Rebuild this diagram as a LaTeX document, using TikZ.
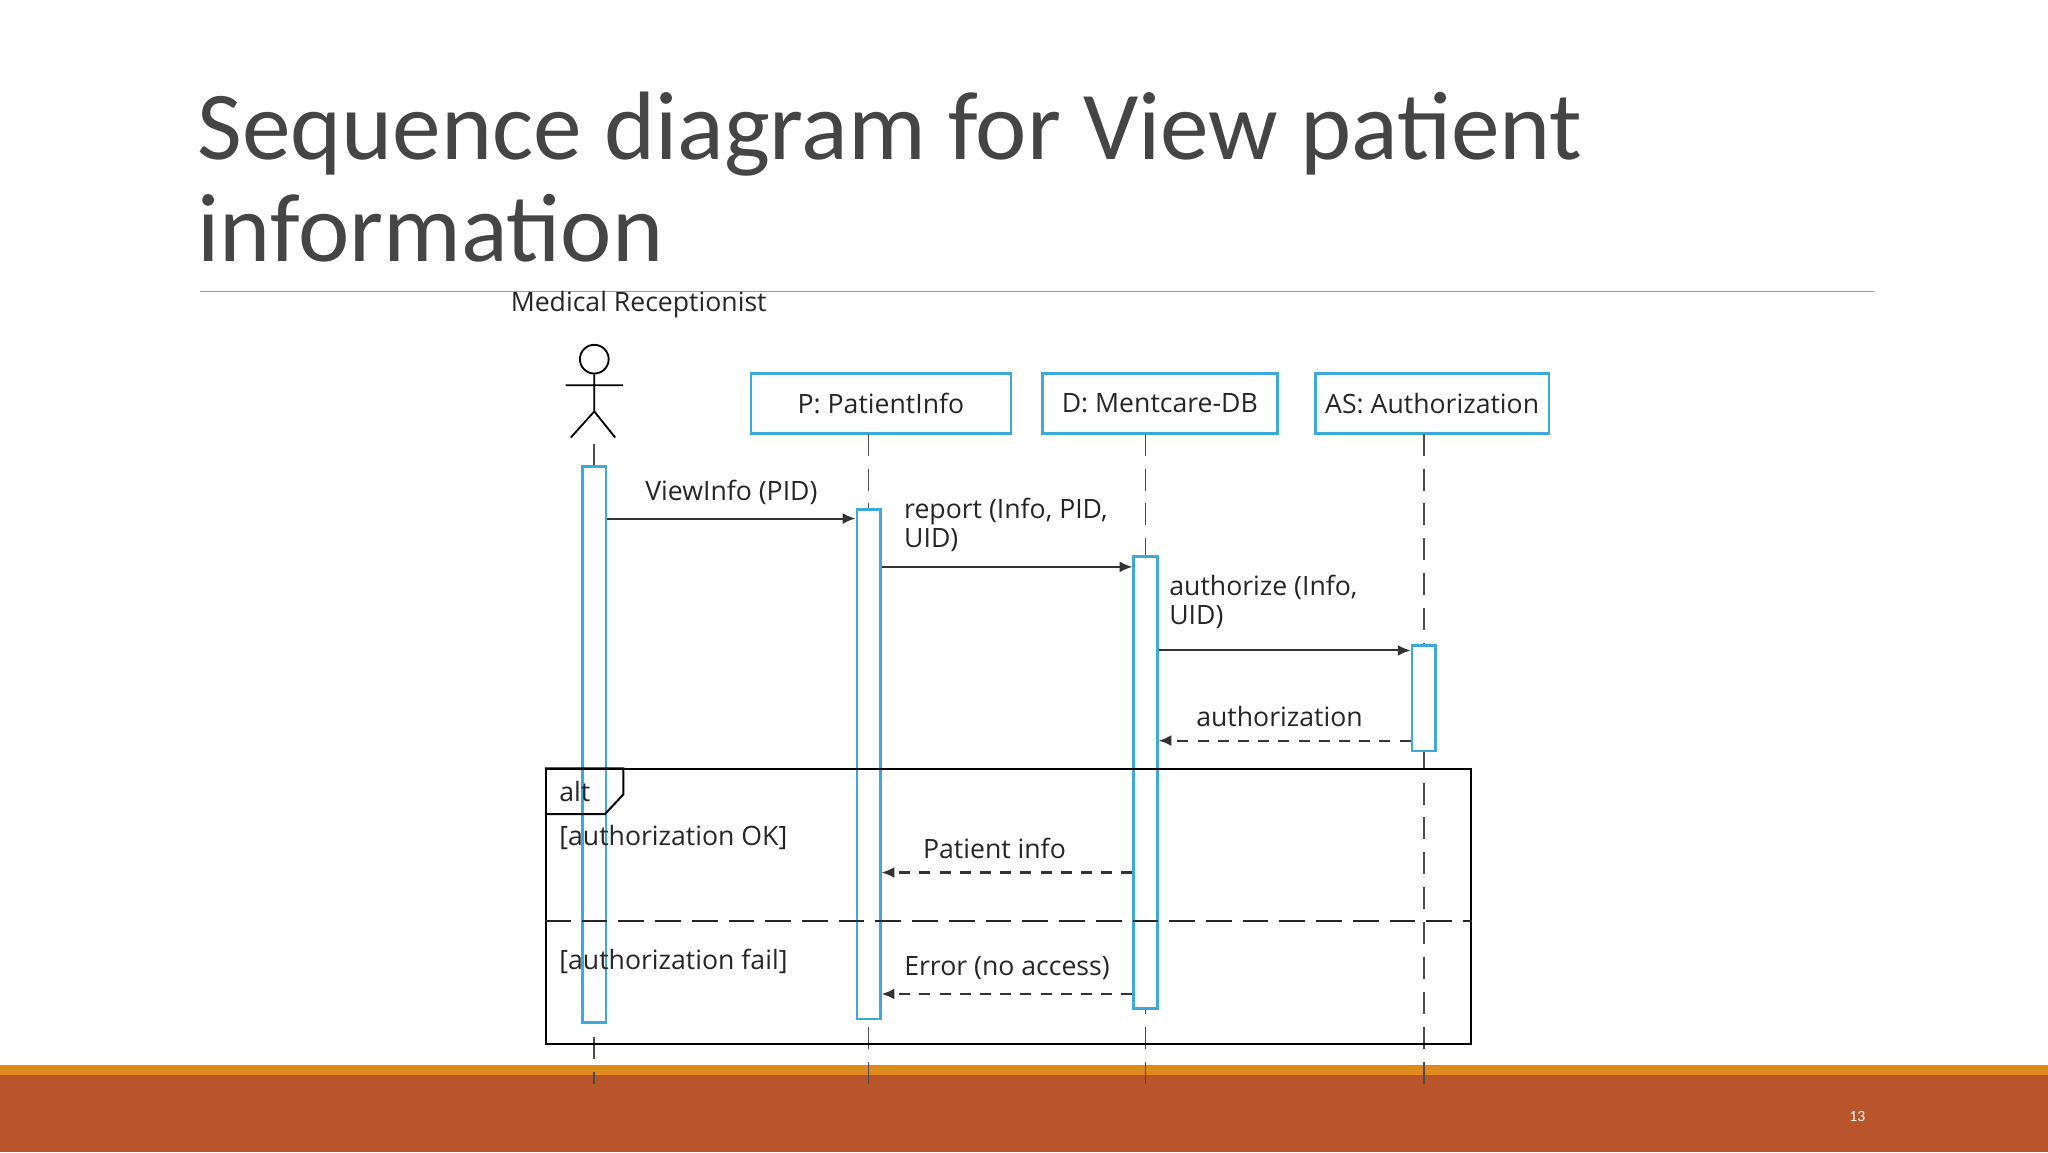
\documentclass[tikz,border=0pt]{standalone}
\usepackage{fontspec}
\setmainfont{Carlito}
\newfontfamily\seqfont{Open Sans}
\usetikzlibrary{positioning,arrows.meta}
\definecolor{boxblue}{HTML}{3BA9D9}
\definecolor{titlegray}{HTML}{454545}
\definecolor{barorange}{HTML}{E08A1E}
\definecolor{barrust}{HTML}{B9552B}
\begin{document}
\begin{tikzpicture}[
    x=0.25mm, y=-0.25mm,
    every node/.style={inner sep=0pt},
    txt/.style={font=\seqfont\fontsize{14.5}{16}\selectfont, text=black!85, align=left},
    obj/.style={draw=boxblue, line width=1.4pt, minimum width=#1*0.25mm, minimum height=11.5mm, txt},
    act/.style={draw=boxblue, line width=1.4pt, fill=white, minimum width=4.5mm},
    life/.style={draw=black!70, line width=0.9pt, dash pattern=on 12pt off 7pt},
    msg/.style={draw=black!80, line width=1.1pt, -{Latex[length=7pt,width=6pt]}},
    ret/.style={msg, dash pattern=on 6pt off 5pt}]
  \useasboundingbox (0,0) rectangle (1568,882);
  % slide
  \node[anchor=base west, font=\fontsize{53}{53}\selectfont, text=titlegray] (title1) at (151,122) {Sequence diagram for View patient};
  \node[anchor=base west, font=\fontsize{53}{53}\selectfont, text=titlegray] (title2) at (151,200) {information};
  \draw[black!40, line width=0.8pt] (153,223) -- (1435,223);
  \fill[barorange] (0,815) rectangle (1568,823);
  \fill[barrust] (0,823) rectangle (1568,882);
  \node[font=\fontsize{8.5}{9}\selectfont, text=white] (page) at (1422,855) {13};

  % actor
  \node[txt] (mr-label) at (489,233) {Medical Receptionist};
  \node[draw, circle, line width=1pt, minimum size=5.5mm] (head) at (455,275) {};
  \coordinate (hip) at (455,315);
  \draw[line width=1pt] (head.south) -- (hip) -- (437,335) (hip) -- (471,335) (433,295) -- (477,295);

  % objects
  \node[obj=199] (p) at (674.5,309) {P: PatientInfo};
  \node[obj=180] (d) at (888,309) {D: Mentcare-DB};
  \node[obj=179] (as) at (1096.5,309) {AS: Authorization};

  % lifelines
  \draw[life] (455,340) -- (455,830);
  \draw[life] (665,332) -- (665,830);
  \draw[life] (877,332) -- (877,830);
  \draw[life] (1090,332) -- (1090,830);

  % activations
  \node[act, minimum height=426*0.25mm] (a-mr) at (455,570) {};
  \node[act, minimum height=390*0.25mm] (a-p) at (665,585) {};
  \node[act, minimum height=346*0.25mm] (a-d) at (877,599) {};
  \node[act, minimum height=81*0.25mm] (a-as) at (1090,534.5) {};

  % messages
  \draw[msg] (a-mr.east |- 0,397) -- node[txt, above=2.5mm] (m1) {ViewInfo (PID)} (a-p.west |- 0,397);
  \draw[msg] (a-p.east |- 0,434) -- (a-d.west |- 0,434);
  \node[txt, anchor=north west] (m2) at (692,381) {report (Info, PID,\\UID)};
  \draw[msg] (a-d.east |- 0,498) -- (a-as.west |- 0,498);
  \node[txt, anchor=north west] (m3) at (895,440) {authorize (Info,\\UID)};
  \draw[ret] (a-as.west |- 0,567) -- node[txt, above=2.5mm, pos=0.52] (m4) {authorization} (a-d.east |- 0,567);

  % alt fragment
  \node[draw, line width=1.1pt, minimum width=708*0.25mm, minimum height=210*0.25mm] (alt) at (772,694) {};
  \draw[line width=1.1pt] (alt.north west) -- ++(60,0) -- ++(0,20) -- ++(-14,15) -- ++(-46,0);
  \node[txt, anchor=west] (alt-label) at (428,606) {alt};
  \node[txt, anchor=west] (g1) at (428,641) {[authorization OK]};
  \draw[black!85, line width=1.1pt, dash pattern=on 14pt off 6pt] (alt.west |- 0,705) -- (alt.east |- 0,705);
  \node[txt, anchor=west] (g2) at (428,736) {[authorization fail]};

  \draw[ret] (a-d.west |- 0,668) -- node[txt, above=2.5mm, pos=0.55] (m5) {Patient info} (a-p.east |- 0,668);
  \draw[ret] (a-d.west |- 0,761) -- node[txt, above=2.5mm, pos=0.5] (m6) {Error (no access)} (a-p.east |- 0,761);
\end{tikzpicture}
\end{document}
